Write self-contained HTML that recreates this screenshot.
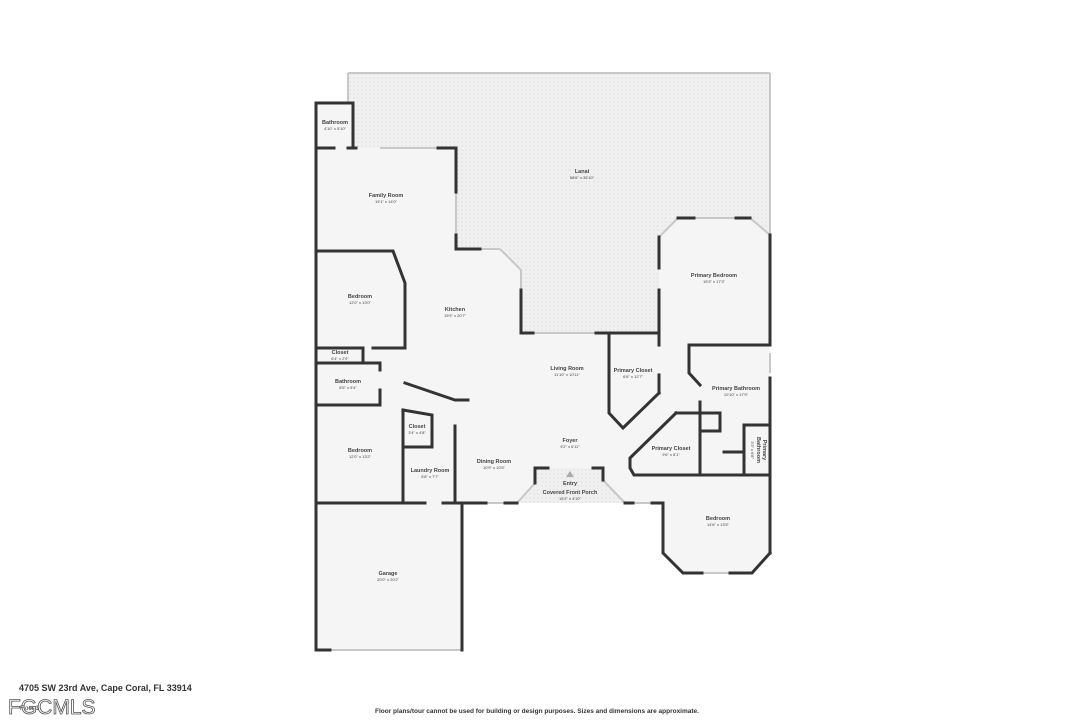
<!DOCTYPE html>
<html><head><meta charset="utf-8"><style>
html,body{margin:0;padding:0;background:#fff;}
svg{display:block;}
text{font-family:"Liberation Sans",sans-serif;fill:#444;text-anchor:middle;}
.l{font-size:5.5px;font-weight:bold;}
.d{font-size:4px;}
</style></head><body>
<svg width="1086" height="724" viewBox="0 0 1086 724" xmlns="http://www.w3.org/2000/svg">
<defs>
<pattern id="dots" width="4" height="4" patternUnits="userSpaceOnUse">
<rect width="4" height="4" fill="#f0f0f0"/><circle cx="2" cy="2" r="0.7" fill="#dcdcdc"/>
</pattern>
</defs>
<!-- lanai -->
<polygon points="348,73 770,73 770,235 750,218 678,218 659,237 659,333 596,333 521,333 521,270 500,249 456,249 456,148 353,148 353,103 348,103" fill="url(#dots)"/>
<!-- interior floor -->
<polygon points="316,103 353,103 353,148 456,148 456,249 500,249 521,270 521,333 659,333 659,237 678,218 750,218 770,235 770,553 752,573 683,573 663,553 663,503 316,503" fill="#f5f5f5"/>
<rect x="316" y="503" width="146" height="147" fill="#f5f5f5"/>
<polygon points="517,503 535,483 535,468 603,468 603,480 625,503" fill="url(#dots)"/>
<polygon points="570,471 566,477 574,477" fill="#aaa"/>
<!-- windows / light lines -->
<g stroke="#c8c8c8" stroke-width="2" fill="none">
<line x1="348" y1="73" x2="770" y2="73"/>
<line x1="770" y1="73" x2="770" y2="235"/>
<line x1="348" y1="73" x2="348" y2="103"/>
<line x1="380" y1="148" x2="438" y2="148"/>
<line x1="456" y1="192" x2="456" y2="235"/>
<line x1="480" y1="249" x2="500" y2="249"/>
<line x1="500" y1="249" x2="521" y2="270"/>
<line x1="521" y1="270" x2="521" y2="290"/>
<line x1="533" y1="333" x2="596" y2="333"/>
<line x1="694" y1="218" x2="736" y2="218"/>
<line x1="659" y1="237" x2="678" y2="218"/>
<line x1="750" y1="218" x2="770" y2="235"/>
<line x1="316" y1="260" x2="316" y2="278"/>
<line x1="316" y1="373" x2="316" y2="392"/>
<line x1="316" y1="476" x2="316" y2="496"/>
<line x1="486" y1="503" x2="505" y2="503"/>
<line x1="633" y1="503" x2="652" y2="503"/>
<line x1="517" y1="503" x2="535" y2="483"/>
<line x1="603" y1="480" x2="625" y2="503"/>
<line x1="770" y1="353" x2="770" y2="373"/>
<line x1="770" y1="430" x2="770" y2="460"/>
<line x1="663" y1="553" x2="683" y2="573"/>
<line x1="702" y1="573" x2="730" y2="573"/>
<line x1="752" y1="573" x2="770" y2="553"/>
<line x1="330" y1="650" x2="462" y2="650"/>
<line x1="316" y1="113" x2="316" y2="123"/>
</g>
<!-- walls -->
<g stroke="#333" stroke-width="3" fill="none" stroke-linecap="square">
<polyline points="353,103 316,103 316,650 330,650"/>
<line x1="353" y1="103" x2="353" y2="145"/>
<polyline points="316,148 334,148"/>
<polyline points="348,148 356,148"/>
<polyline points="438,148 456,148 456,192"/>
<polyline points="456,235 456,249 480,249"/>
<polyline points="521,290 521,333 533,333"/>
<polyline points="596,333 659,333"/>
<line x1="659" y1="237" x2="659" y2="268"/>
<line x1="659" y1="290" x2="659" y2="345"/>
<line x1="659" y1="375" x2="659" y2="393"/>
<line x1="678" y1="218" x2="694" y2="218"/>
<line x1="736" y1="218" x2="750" y2="218"/>
<line x1="770" y1="235" x2="770" y2="345"/>
<line x1="770" y1="378" x2="770" y2="553"/>
<polyline points="609,333 609,413 623,428 659,393"/>
<polyline points="770,345 689,345 689,373 700,385"/>
<line x1="700" y1="402" x2="700" y2="475"/>
<polyline points="676,413 720,413 720,431 700,431"/>
<polyline points="676,413 630,458 630,468 634,475 770,475"/>
<polyline points="744,475 744,425 770,425"/>
<line x1="724" y1="452" x2="744" y2="452"/>
<polyline points="663,503 663,553 683,573 702,573"/>
<polyline points="730,573 752,573 770,553"/>
<!-- front wall -->
<polyline points="316,503 425,503"/>
<polyline points="443,503 486,503"/>
<line x1="505" y1="503" x2="517" y2="503"/>
<polyline points="535,483 535,468 548,468"/>
<polyline points="593,468 603,468 603,480"/>
<line x1="625" y1="503" x2="633" y2="503"/>
<line x1="652" y1="503" x2="663" y2="503"/>
<line x1="462" y1="503" x2="462" y2="650"/>
<!-- left rooms -->
<polyline points="316,251 393,251 405,283 405,348"/>
<polyline points="316,348 363,348 363,363"/>
<line x1="373" y1="348" x2="403" y2="348"/>
<polyline points="316,363 380,363 380,370"/>
<line x1="380" y1="390" x2="380" y2="405"/>
<line x1="316" y1="405" x2="380" y2="405"/>
<polyline points="405,383 455,400 468,400"/>
<polyline points="403,410 432,415 432,447 405,447"/>
<line x1="403" y1="410" x2="403" y2="503"/>
<line x1="455" y1="426" x2="455" y2="503"/>
<line x1="420" y1="447" x2="432" y2="447"/>
</g>
<g>
<text class="l" x="335" y="124">Bathroom</text><text class="d" x="335" y="130">4'10" x 5'10"</text>
<text class="l" x="386" y="197">Family Room</text><text class="d" x="386" y="203">19'1" x 14'0"</text>
<text class="l" x="582" y="173">Lanai</text><text class="d" x="582" y="179">58'6" x 35'10"</text>
<text class="l" x="714" y="277">Primary Bedroom</text><text class="d" x="714" y="283">15'3" x 17'3"</text>
<text class="l" x="360" y="298">Bedroom</text><text class="d" x="360" y="304">12'0" x 13'0"</text>
<text class="l" x="455" y="311">Kitchen</text><text class="d" x="455" y="317">15'9" x 20'7"</text>
<text class="l" x="340" y="354">Closet</text><text class="d" x="340" y="360">6'4" x 2'9"</text>
<text class="l" x="567" y="370">Living Room</text><text class="d" x="567" y="376">11'10" x 10'11"</text>
<text class="l" x="633" y="372">Primary Closet</text><text class="d" x="633" y="378">6'6" x 12'7"</text>
<text class="l" x="348" y="383">Bathroom</text><text class="d" x="348" y="389">8'5" x 5'4"</text>
<text class="l" x="736" y="390">Primary Bathroom</text><text class="d" x="736" y="396">10'10" x 17'9"</text>
<text class="l" x="417" y="428">Closet</text><text class="d" x="417" y="434">3'4" x 4'8"</text>
<text class="l" x="570" y="442">Foyer</text><text class="d" x="570" y="448">9'2" x 6'11"</text>
<text class="l" x="671" y="450">Primary Closet</text><text class="d" x="671" y="456">9'6" x 8'1"</text>
<text class="l" x="360" y="452">Bedroom</text><text class="d" x="360" y="458">12'0" x 13'2"</text>
<text class="l" x="494" y="463">Dining Room</text><text class="d" x="494" y="469">10'9" x 10'5"</text>
<text class="l" x="430" y="472">Laundry Room</text><text class="d" x="430" y="478">6'8" x 7'7"</text>
<text class="l" x="570" y="485">Entry</text>
<text class="l" x="570" y="494">Covered Front Porch</text><text class="d" x="570" y="500">15'2" x 4'10"</text>
<text class="l" x="718" y="520">Bedroom</text><text class="d" x="718" y="526">14'6" x 13'5"</text>
<text class="l" x="388" y="575">Garage</text><text class="d" x="388" y="581">20'0" x 20'2"</text>
<g transform="translate(763,450) rotate(90)"><text class="l" x="0" y="0">Primary</text><text class="l" x="0" y="6">Bathroom</text><text class="d" x="0" y="12">3'3" x 6'8"</text></g>
</g>
<text x="19" y="691" style="font-size:9px;font-weight:bold;fill:#333;text-anchor:start">4705 SW 23rd Ave, Cape Coral, FL 33914</text>
<text x="375" y="713" style="font-size:6.5px;font-weight:bold;fill:#333;text-anchor:start">Floor plans/tour cannot be used for building or design purposes. Sizes and dimensions are approximate.</text>
<text x="20" y="710" style="font-size:6px;fill:#333;text-anchor:start">Floor 1</text>
<text x="8" y="714" style="font-size:21px;fill:none;stroke:#555;stroke-width:0.8;text-anchor:start">FGCMLS</text>
</svg>
</body></html>
